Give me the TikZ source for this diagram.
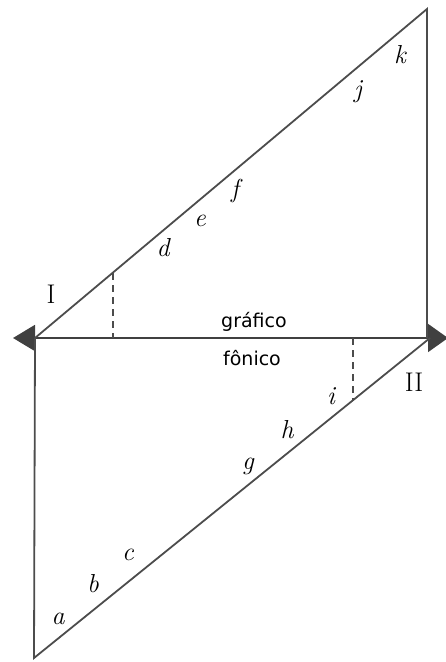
\documentclass[tikz,border=0pt]{standalone}
\usepackage{fontspec}
\newfontfamily\axisfont{DejaVu Sans}
\usetikzlibrary{arrows.meta}
\begin{document}
\begin{tikzpicture}[x=1pt,y=-1pt,line width=1.8pt,
  lbl/.style={font=\fontsize{26}{26}\selectfont\itshape},
  roman/.style={font=\fontsize{27}{27}\selectfont},
  axis/.style={font=\fontsize{19}{19}\axisfont},
  guide/.style={dashed,dash pattern=on 7pt off 5pt,line width=1.5pt}]
  \useasboundingbox (0,0) rectangle (445,662);
  % corners
  \coordinate (I) at (35,338);
  \coordinate (II) at (430,338);
  \coordinate (top) at (427,9);
  \coordinate (bot) at (34,658);
  \coordinate (lt) at (13,338);
  \coordinate (rt) at (448,338);
  % axis with both tips
  \draw[black!75,{Triangle[length=22pt,width=26pt]}-{Triangle[length=20pt,width=28pt]}] (lt) -- (rt);
  \draw[black!70] (I) -- (top) -- (427,338);
  \draw[black!70] (I) -- (bot) -- (II);
  % dashed guides
  \coordinate (du) at (113,273);
  \coordinate (dl) at (353,400);
  \draw[guide,black!70] (du) -- (du |- I);
  \draw[guide,black!70] (dl |- I) -- (dl);
  % labels
  \node[roman] (nI) at (51,294) {I};
  \node[roman] (nII) at (414,382) {II};
  \node[axis] (graf) at (254,322) {gráfico};
  \node[axis] (fon) at (252,358) {fônico};
  \node[lbl] (a) at (58,619) {a};
  \node[lbl] (b) at (93,584) {b};
  \node[lbl] (c) at (128,555) {c};
  \node[lbl] (g) at (248,466) {g};
  \node[lbl] (h) at (287,430) {h};
  \node[lbl] (i) at (331,396) {i};
  \node[lbl] (d) at (163,248) {d};
  \node[lbl] (e) at (200,221) {e};
  \node[lbl] (f) at (235,191) {f};
  \node[lbl] (j) at (358,92) {j};
  \node[lbl] (k) at (400,55) {k};
\end{tikzpicture}
\end{document}
